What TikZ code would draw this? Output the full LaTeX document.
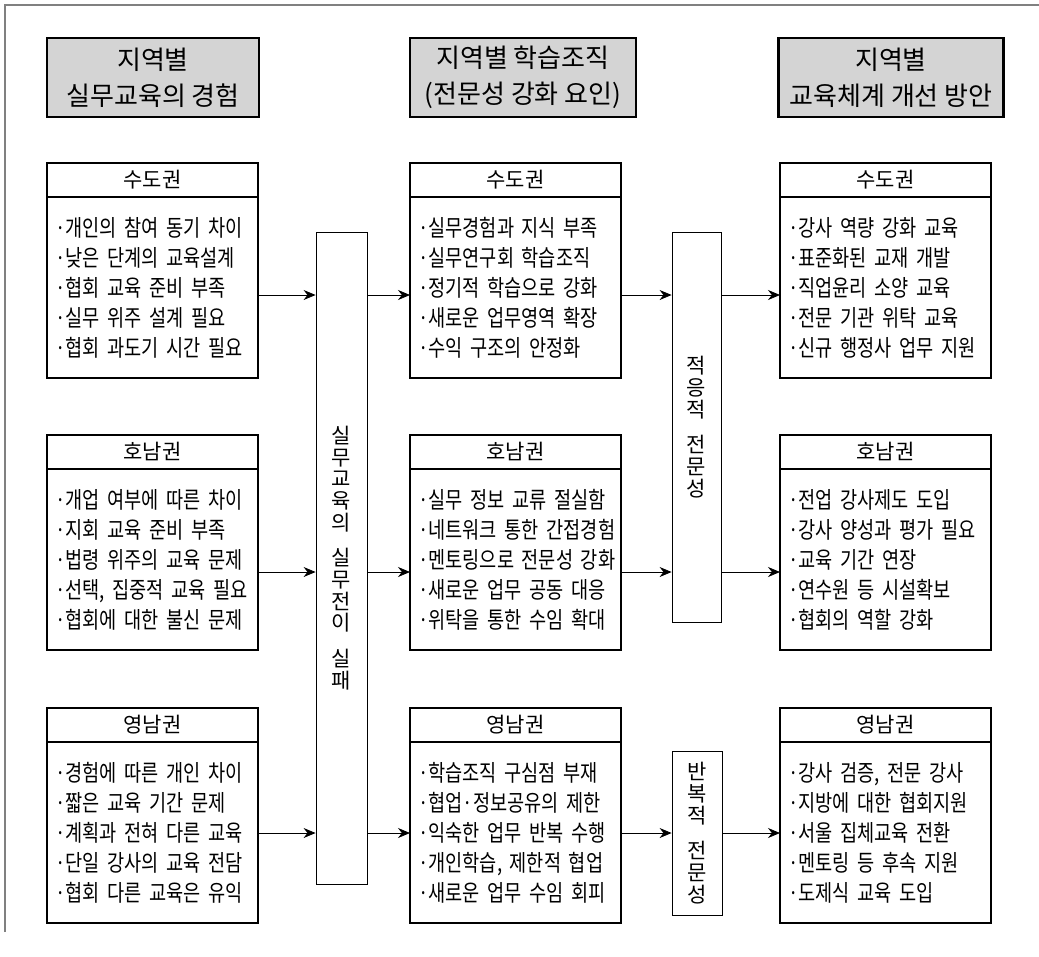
\documentclass[tikz,border=0pt]{standalone}
\usepackage{fontspec}
\newfontfamily\kr{Noto Sans CJK KR}
\newfontfamily\krc[FakeStretch=0.81,WordSpace=2]{Noto Sans CJK KR}
\usetikzlibrary{positioning,arrows.meta}
\begin{document}
\begin{tikzpicture}[x=1pt,y=-1pt,>={Stealth[length=12pt,width=10pt]},
 hd/.style={draw,line width=2.4pt,fill=black!17,minimum height=79pt,align=center,inner sep=0pt,font=\kr\fontsize{26}{36}\selectfont},
 ttl/.style={draw,line width=1.6pt,outer sep=0pt,anchor=north west,minimum width=211pt,minimum height=34pt,inner sep=0pt,font=\kr\fontsize{21}{24}\selectfont},
 itm/.style={draw,line width=1.6pt,outer sep=0pt,minimum width=211pt,minimum height=181pt,text width=211pt,inner sep=0pt,execute at begin node={\leftskip=8pt},font=\krc\fontsize{23}{30}\selectfont},
 bar/.style={draw,line width=.8pt,inner sep=0pt,align=center,font=\kr\fontsize{21}{21.7}\selectfont},
 con/.style={->,line width=.8pt}]
\newcommand{\RegBox}[4]{\node[ttl] (#1-t) at (#2) {#3}; \node[itm,below=0pt of #1-t] (#1-b) {#4};}
\useasboundingbox (0,0) rectangle (1039,956);
\draw[black!50,line width=1.5pt] (5,932) -- (5,5) -- (1039,5);
% column headers
\node[hd,minimum width=212pt] (hL) at (153,77.5) {지역별\\실무교육의 경험};
\node[hd,minimum width=226pt] (hM) at (523,77.5) {지역별 학습조직\\(전문성 강화 요인)};
\node[hd,minimum width=225pt] (hR) at (891,77.5) {지역별\\교육체계 개선 방안};
% regions
\RegBox{L1}{47,163}{수도권}{·개인의 참여 동기 차이\\·낮은 단계의 교육설계\\·협회 교육 준비 부족\\·실무 위주 설계 필요\\·협회 과도기 시간 필요}
\RegBox{L2}{47,435}{호남권}{·개업 여부에 따른 차이\\·지회 교육 준비 부족\\·법령 위주의 교육 문제\\·선택, 집중적 교육 필요\\·협회에 대한 불신 문제}
\RegBox{L3}{47,708}{영남권}{·경험에 따른 개인 차이\\·짧은 교육 기간 문제\\·계획과 전혀 다른 교육\\·단일 강사의 교육 전담\\·협회 다른 교육은 유익}
\RegBox{M1}{410,163}{수도권}{·실무경험과 지식 부족\\·실무연구회 학습조직\\·정기적 학습으로 강화\\·새로운 업무영역 확장\\·수익 구조의 안정화}
\RegBox{M2}{410,435}{호남권}{·실무 정보 교류 절실함\\·네트워크 통한 간접경험\\·멘토링으로 전문성 강화\\·새로운 업무 공동 대응\\·위탁을 통한 수임 확대}
\RegBox{M3}{410,708}{영남권}{·학습조직 구심점 부재\\·협업·정보공유의 제한\\·익숙한 업무 반복 수행\\·개인학습, 제한적 협업\\·새로운 업무 수임 회피}
\RegBox{R1}{780,163}{수도권}{·강사 역량 강화 교육\\·표준화된 교재 개발\\·직업윤리 소양 교육\\·전문 기관 위탁 교육\\·신규 행정사 업무 지원}
\RegBox{R2}{780,435}{호남권}{·전업 강사제도 도입\\·강사 양성과 평가 필요\\·교육 기간 연장\\·연수원 등 시설확보\\·협회의 역할 강화}
\RegBox{R3}{780,708}{영남권}{·강사 검증, 전문 강사\\·지방에 대한 협회지원\\·서울 집체교육 전환\\·멘토링 등 후속 지원\\·도제식 교육 도입}
% vertical bars
\node[bar,minimum width=51pt,minimum height=652pt] (fail) at (341.5,558) {실\\무\\교\\육\\의\\[14pt]실\\무\\전\\이\\[14pt]실\\패};
\node[bar,minimum width=49pt,minimum height=390pt] (adapt) at (696.5,427) {적\\응\\적\\[14pt]전\\문\\성};
\node[bar,minimum width=50pt,minimum height=164pt] (rep) at (697,833) {반\\복\\적\\[14pt]전\\문\\성};
% connectors
\coordinate (r1) at (0,295); \coordinate (r2) at (0,572); \coordinate (r3) at (0,833);
\foreach \r in {1,2} {
 \draw[con] (L\r-b.east |- r\r) -- (fail.west |- r\r);
 \draw[con] (fail.east |- r\r) -- (M\r-b.west |- r\r);
 \draw[con] (M\r-b.east |- r\r) -- (adapt.west |- r\r);
 \draw[con] (adapt.east |- r\r) -- (R\r-b.west |- r\r);}
\draw[con] (L3-b.east |- r3) -- (fail.west |- r3);
\draw[con] (fail.east |- r3) -- (M3-b.west |- r3);
\draw[con] (M3-b.east |- r3) -- (rep.west |- r3);
\draw[con] (rep.east |- r3) -- (R3-b.west |- r3);
\end{tikzpicture}
\end{document}
